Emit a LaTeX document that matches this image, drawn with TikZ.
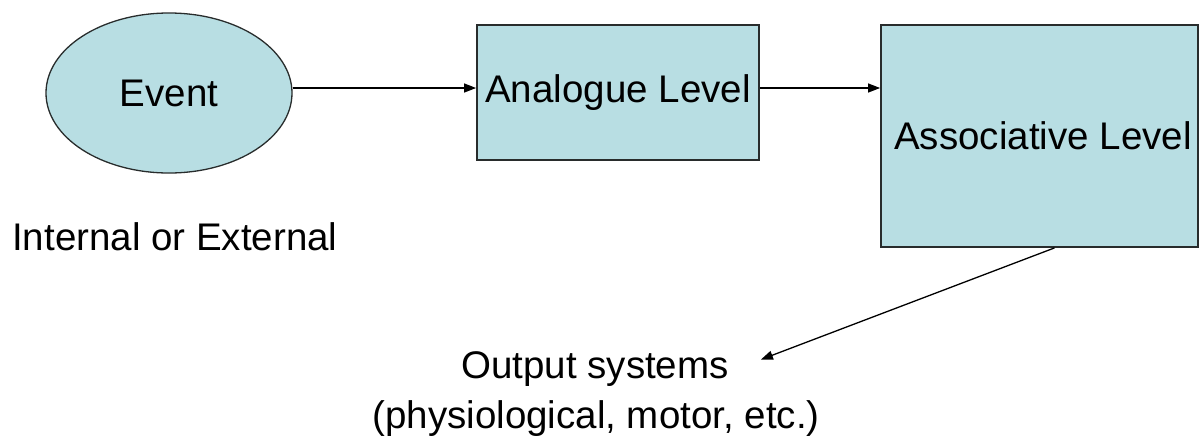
\documentclass[tikz,border=0pt]{standalone}
\usepackage{fontspec}
\setmainfont{Liberation Sans}
\usetikzlibrary{arrows.meta,shapes.geometric}
\definecolor{boxfill}{RGB}{184,222,227}
\definecolor{boxline}{RGB}{40,44,44}
\tikzset{
  txt/.style={font=\fontsize{38.5}{50}\selectfont, text=black, inner sep=0pt},
  evshape/.style={ellipse, draw=boxline, line width=1.3pt, fill=boxfill,
    minimum width=246pt, minimum height=160pt, inner sep=0pt, txt},
  lvbox/.style={rectangle, draw=boxline, line width=1.8pt, fill=boxfill, inner sep=0pt, txt},
  arr/.style={-{Triangle[length=12pt,width=9pt]}, line width=1.3pt, black},
}
\begin{document}
\begin{tikzpicture}[x=1pt,y=-1pt]
\useasboundingbox (0,0) rectangle (1200,437);
\fill[white] (0,0) rectangle (1200,437);
\node[evshape] (ev) at (169,93) {Event};
\node[lvbox, minimum width=282pt, minimum height=135pt] (an) at (618,92.5) {Analogue Level};
\node[lvbox, minimum width=317pt, minimum height=222pt] (as) at (1039.5,136) {\hspace*{7pt}Associative Level};
\node[txt, anchor=base west] (ie) at (12,250) {Internal or External};
\node[txt, anchor=base] (os) at (595,378) {Output systems};
\node[txt, anchor=base] (ph) at (596,428) {(physiological, motor, etc.)};
\coordinate (anin) at ([yshift=4.5pt]an.west);
\coordinate (anout) at ([yshift=4.5pt]an.east);
\coordinate (ostip) at ([xshift=32pt,yshift=9pt]os.east);
\draw[arr] (ev.east |- anin) -- (anin);
\draw[arr] (anout) -- (anout -| as.west);
\draw[arr] ([xshift=15pt]as.south) -- (ostip);
\end{tikzpicture}
\end{document}
